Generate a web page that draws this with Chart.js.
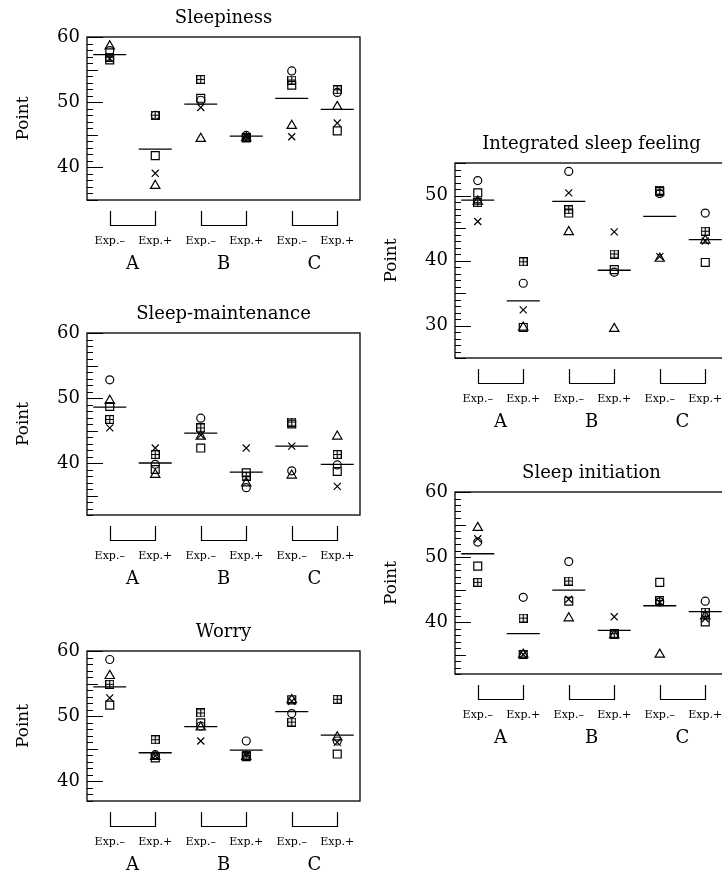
<!DOCTYPE html>
<html>
<head>
<meta charset="utf-8">
<script src="https://cdn.jsdelivr.net/npm/chart.js@4.4.1/dist/chart.umd.min.js"></script>
<style>
  html, body { margin: 0; padding: 0; background: #fff; width: 722px; height: 873px; overflow: hidden; }
  canvas { position: absolute; }
</style>
</head>
<body>
<canvas id="sleepiness"></canvas>
<canvas id="maintenance"></canvas>
<canvas id="worry"></canvas>
<canvas id="integrated"></canvas>
<canvas id="initiation"></canvas>
<script>
// categories: A Exp-, A Exp+, B Exp-, B Exp+, C Exp-, C Exp+
const expLabels = ['Exp.\u2013', 'Exp.+', 'Exp.\u2013', 'Exp.+', 'Exp.\u2013', 'Exp.+'];
const groupLabels = ['A', 'B', 'C'];
const ticksMain = [40, 50, 60];
const ticksIntegrated = [30, 40, 50];

// Sleepiness
const sleepinessCircle   = [57.9, 48.0, 50.3, 44.9, 54.8, 51.5];
const sleepinessSquare   = [56.5, 41.8, 50.6, 44.5, 52.6, 45.6];
const sleepinessBoxPlus  = [56.9, 48.0, 53.5, 44.6, 53.4, 51.9];
const sleepinessTriangle = [58.6, 37.2, 44.4, 44.5, 46.4, 49.3];
const sleepinessCross    = [56.7, 39.1, 49.2, 44.7, 44.7, 46.8];
const sleepinessMean     = [57.3, 42.8, 49.7, 44.8, 50.6, 48.9];

// Sleep-maintenance
const maintenanceCircle   = [52.8, 39.8, 46.9, 36.2, 38.8, 39.7];
const maintenanceSquare   = [48.7, 39.0, 42.3, 38.5, 46.0, 38.7];
const maintenanceBoxPlus  = [46.7, 41.3, 45.4, 38.0, 46.3, 41.3];
const maintenanceTriangle = [49.6, 38.2, 44.1, 36.9, 38.1, 44.1];
const maintenanceCross    = [45.4, 42.3, 44.3, 42.3, 42.6, 36.4];
const maintenanceMean     = [48.6, 40.0, 44.6, 38.6, 42.6, 39.8];

// Worry
const worryCircle   = [58.7, 44.1, 48.5, 46.2, 50.4, 46.2];
const worrySquare   = [51.7, 43.6, 49.0, 43.8, 52.5, 44.2];
const worryBoxPlus  = [54.9, 46.4, 50.5, 44.0, 49.1, 52.6];
const worryTriangle = [56.2, 43.8, 48.3, 43.8, 52.5, 46.8];
const worryCross    = [52.8, 43.9, 46.2, 44.0, 52.3, 46.0];
const worryMean     = [54.5, 44.4, 48.4, 44.8, 50.7, 47.1];

// Integrated sleep feeling
const integratedCircle   = [52.3, 36.5, 53.7, 38.2, 50.3, 47.3];
const integratedSquare   = [50.4, 29.7, 47.3, 38.6, 50.6, 39.7];
const integratedBoxPlus  = [48.9, 39.8, 47.8, 41.0, 50.8, 44.5];
const integratedTriangle = [49.1, 29.7, 44.4, 29.5, 40.3, 43.1];
const integratedCross    = [46.0, 32.4, 50.4, 44.4, 40.6, 43.0];
const integratedMean     = [49.3, 33.8, 49.1, 38.5, 46.8, 43.2];

// Sleep initiation
const initiationCircle   = [52.3, 43.8, 49.3, 38.1, 43.1, 43.2];
const initiationSquare   = [48.6, 35.0, 43.2, 38.1, 46.1, 40.0];
const initiationBoxPlus  = [46.1, 40.6, 46.3, 38.2, 43.3, 41.5];
const initiationTriangle = [54.5, 35.0, 40.6, 38.0, 35.0, 40.9];
const initiationCross    = [52.8, 35.0, 43.5, 40.8, 43.0, 40.5];
const initiationMean     = [50.5, 38.2, 44.9, 38.7, 42.5, 41.6];

const FONT = "'DejaVu Serif', 'Liberation Serif', serif";

// square with a plus inside, used as a point style
const boxPlus = document.createElement('canvas');
boxPlus.width = 9; boxPlus.height = 9;
(() => {
  const c = boxPlus.getContext('2d');
  c.strokeStyle = '#000';
  c.lineWidth = 1.2;
  c.strokeRect(0.6, 0.6, 7.8, 7.8);
  c.beginPath();
  c.moveTo(4.5, 0.6); c.lineTo(4.5, 8.4);
  c.moveTo(0.6, 4.5); c.lineTo(8.4, 4.5);
  c.stroke();
})();

// frame, inside ticks and the brackets under each pair
const framePlugin = {
  id: 'frame',
  afterDraw(chart) {
    const { ctx, chartArea: a, scales: { x, y } } = chart;
    ctx.save();
    ctx.strokeStyle = '#000';
    ctx.lineWidth = 1.3;
    ctx.strokeRect(a.left, a.top, a.right - a.left, a.bottom - a.top);
    ctx.lineWidth = 1;
    ctx.beginPath();
    for (let v = Math.ceil(y.min); v <= y.max; v++) {
      const py = Math.round(y.getPixelForValue(v)) + 0.5;
      const len = v % 10 === 0 ? 16 : (v % 5 === 0 ? 11 : 6);
      ctx.moveTo(a.left, py);
      ctx.lineTo(a.left + len, py);
    }
    ctx.stroke();
    ctx.lineWidth = 1.2;
    ctx.beginPath();
    for (let g = 0; g < 3; g++) {
      const x1 = Math.round(x.getPixelForValue(2 * g)) + 0.5;
      const x2 = Math.round(x.getPixelForValue(2 * g + 1)) + 0.5;
      const t = a.bottom + 11, b = a.bottom + 25.5;
      ctx.moveTo(x1, t); ctx.lineTo(x1, b); ctx.lineTo(x2, b); ctx.lineTo(x2, t);
    }
    ctx.stroke();
    ctx.restore();
  },
};

const pointSet = (data, style, radius) => ({
  data,
  showLine: false,
  pointStyle: style,
  pointRadius: radius,
  pointBorderColor: '#000',
  pointBackgroundColor: 'rgba(0,0,0,0)',
  pointBorderWidth: 1.2,
});

const makePanel = (id, left, top, min, max, yTicks, title, circle, square, plus, triangle, cross, mean) => {
  const plotH = (max - min) * 6.5;
  const canvas = document.getElementById(id);
  canvas.width = 373;
  canvas.height = Math.round(37 + plotH + 76);
  canvas.style.left = `${left}px`;
  canvas.style.top = `${top - 37}px`;
  return new Chart(canvas, {
    type: 'line',
    data: {
      labels: expLabels,
      datasets: [
        { ...pointSet(mean, 'line', 16.5), pointBorderWidth: 1.3 },
        pointSet(circle, 'circle', 4),
        pointSet(square, 'rect', 5.6),
        pointSet(plus, boxPlus, 4.5),
        pointSet(triangle, 'triangle', 5.4),
        pointSet(cross, 'crossRot', 5),
      ],
    },
    options: {
      responsive: false,
      animation: false,
      events: [],
      layout: { autoPadding: false, padding: { left: 0, right: 13, top: 0, bottom: 0 } },
      scales: {
        x: {
          type: 'category',
          offset: true,
          weight: 0,
          grid: { display: false, drawTicks: false },
          border: { display: false },
          ticks: { padding: 35, maxRotation: 0, autoSkip: false, color: '#000', font: { family: FONT, size: 11 } },
          afterFit(scale) { scale.height = 48; scale.paddingLeft = 0; scale.paddingRight = 0; },
        },
        x2: {
          type: 'category',
          position: 'bottom',
          labels: groupLabels,
          offset: true,
          weight: 1,
          grid: { display: false, drawTicks: false },
          border: { display: false },
          ticks: { padding: 6, maxRotation: 0, color: '#000', font: { family: FONT, size: 18 } },
          afterFit(scale) { scale.height = 28; scale.paddingLeft = 0; scale.paddingRight = 0; },
        },
        y: {
          min,
          max,
          grid: { display: false, drawTicks: false },
          border: { display: false },
          afterBuildTicks(scale) { scale.ticks = yTicks.map((v) => ({ value: v })); },
          ticks: { padding: 7, color: '#000', font: { family: FONT, size: 18 } },
          title: { display: true, text: 'Point', color: '#000', padding: { top: 13, bottom: 0 }, font: { family: FONT, size: 17 } },
          afterFit(scale) { scale.width = 87; },
        },
      },
      plugins: {
        legend: { display: false },
        tooltip: { enabled: false },
        title: {
          display: true,
          text: title,
          fullSize: false,
          color: '#000',
          padding: { top: 9, bottom: 10 },
          font: { family: FONT, size: 18, weight: 'normal', lineHeight: 1 },
        },
      },
    },
    plugins: [framePlugin],
  });
};

makePanel('sleepiness', 0, 37, 35, 60, ticksMain, 'Sleepiness',
  sleepinessCircle, sleepinessSquare, sleepinessBoxPlus, sleepinessTriangle, sleepinessCross, sleepinessMean);
makePanel('maintenance', 0, 333, 32, 60, ticksMain, 'Sleep-maintenance',
  maintenanceCircle, maintenanceSquare, maintenanceBoxPlus, maintenanceTriangle, maintenanceCross, maintenanceMean);
makePanel('worry', 0, 651, 37, 60, ticksMain, 'Worry',
  worryCircle, worrySquare, worryBoxPlus, worryTriangle, worryCross, worryMean);
makePanel('integrated', 368, 163, 25, 55, ticksIntegrated, 'Integrated sleep feeling',
  integratedCircle, integratedSquare, integratedBoxPlus, integratedTriangle, integratedCross, integratedMean);
makePanel('initiation', 368, 492, 32, 60, ticksMain, 'Sleep initiation',
  initiationCircle, initiationSquare, initiationBoxPlus, initiationTriangle, initiationCross, initiationMean);
</script>
</body>
</html>
